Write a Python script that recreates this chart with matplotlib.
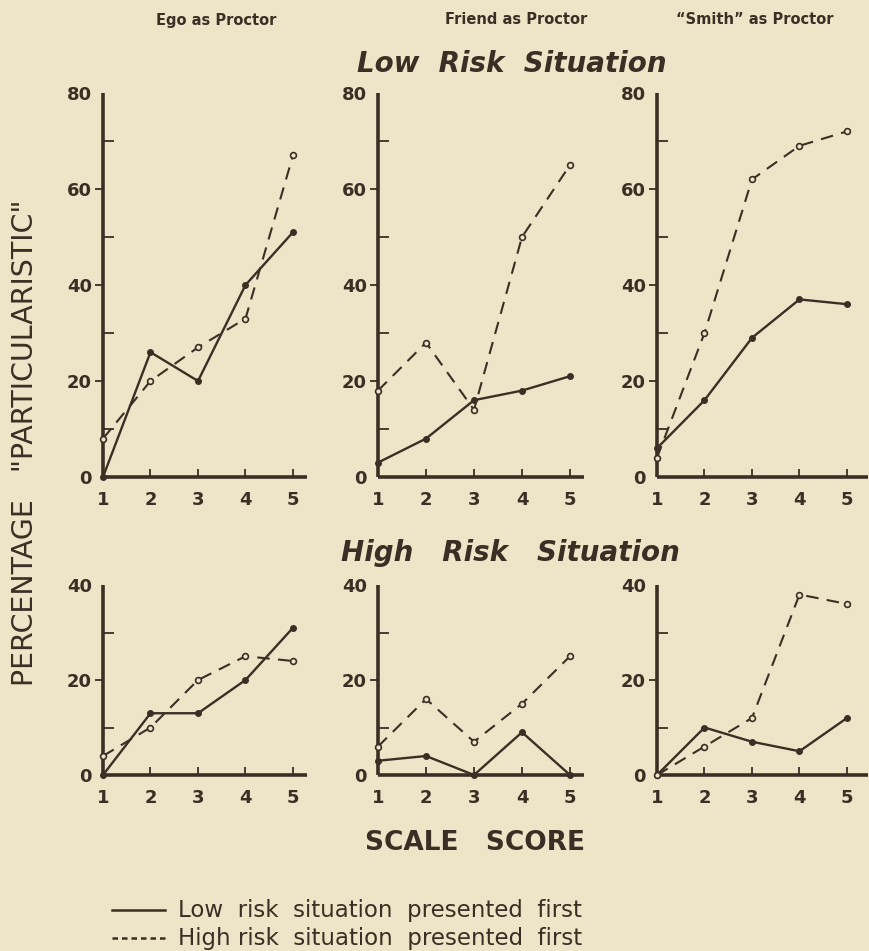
"""Percentage particularistic by scale score, three proctors x two risk situations."""

import matplotlib
matplotlib.use("Agg")
import matplotlib.pyplot as plt
from matplotlib.lines import Line2D

W, H = 870, 951
BG = "#eee5c8"
INK = "#3a2f24"

scores = [1, 2, 3, 4, 5]
proctors = ["Ego as Proctor", "Friend as Proctor", "\u201cSmith\u201d as Proctor"]

# Low risk situation
low_ego_lowfirst = [0, 26, 20, 40, 51]
low_ego_highfirst = [8, 20, 27, 33, 67]
low_friend_lowfirst = [3, 8, 16, 18, 21]
low_friend_highfirst = [18, 28, 14, 50, 65]
low_smith_lowfirst = [6, 16, 29, 37, 36]
low_smith_highfirst = [4, 30, 62, 69, 72]

# High risk situation
high_ego_lowfirst = [0, 13, 13, 20, 31]
high_ego_highfirst = [4, 10, 20, 25, 24]
high_friend_lowfirst = [3, 4, 0, 9, 0]
high_friend_highfirst = [6, 16, 7, 15, 25]
high_smith_lowfirst = [0, 10, 7, 5, 12]
high_smith_highfirst = [0, 6, 12, 38, 36]

plt.rcParams["font.family"] = "DejaVu Sans"
fig = plt.figure(figsize=(W / 100, H / 100), dpi=100, facecolor=BG)


def px_axes(x0, ytop, xend, ybot):
    return fig.add_axes([x0 / W, 1 - ybot / H, (xend - x0) / W, (ybot - ytop) / H])


def panel(ax, solid, dashed, ymax, xmax):
    ax.set_facecolor("none")
    ax.plot(scores, solid, color=INK, lw=1.7, marker="o", ms=4.0,
            mfc=INK, mec=INK, clip_on=False, zorder=3)
    ax.plot(scores, dashed, color=INK, lw=1.5, ls=(0, (6, 4)), marker="o",
            ms=4.2, mfc=BG, mec=INK, mew=1.2, clip_on=False, zorder=3)
    ax.set_xlim(1, xmax)
    ax.set_ylim(0, ymax)
    for s in ["top", "right"]:
        ax.spines[s].set_visible(False)
    for s in ["left", "bottom"]:
        ax.spines[s].set_linewidth(2.6)
        ax.spines[s].set_color(INK)
        ax.spines[s].set_capstyle("butt")
    ax.set_xticks(scores)
    ax.set_xticklabels([str(s) for s in scores])
    ax.tick_params(axis="x", direction="in", length=6, width=1.3, colors=INK,
                   pad=10, labelsize=13)
    ax.xaxis.get_major_ticks()[0].tick1line.set_visible(False)
    major = list(range(0, ymax + 1, 20))
    ax.set_yticks(major)
    ax.set_yticklabels([str(v) for v in major])
    ax.set_yticks(list(range(10, ymax, 20)) + [ymax], minor=True)
    ax.tick_params(axis="y", which="major", direction="out", length=6,
                   width=1.3, colors=INK, pad=2, labelsize=13)
    ax.tick_params(axis="y", which="minor", direction="in", length=8,
                   width=1.3, colors=INK)
    ax.yaxis.get_major_ticks()[0].tick1line.set_visible(False)
    ax.yaxis.get_major_ticks()[-1].tick1line.set_visible(False)
    for lab in ax.get_xticklabels() + ax.get_yticklabels():
        lab.set_fontweight("bold")


# (x of y-axis, x of score 5, right end of x-axis in score units)
cols = [(103, 293, 5.3), (378, 570, 5.3), (657, 847, 5.45)]
top_data = [(low_ego_lowfirst, low_ego_highfirst),
            (low_friend_lowfirst, low_friend_highfirst),
            (low_smith_lowfirst, low_smith_highfirst)]
bot_data = [(high_ego_lowfirst, high_ego_highfirst),
            (high_friend_lowfirst, high_friend_highfirst),
            (high_smith_lowfirst, high_smith_highfirst)]

for (x0, x5, xmax), (s, d) in zip(cols, top_data):
    step = (x5 - x0) / 4
    ax = px_axes(x0, 93, x0 + (xmax - 1) * step, 477)
    panel(ax, s, d, 80, xmax)

for (x0, x5, xmax), (s, d) in zip(cols, bot_data):
    step = (x5 - x0) / 4
    ax = px_axes(x0, 585, x0 + (xmax - 1) * step, 775)
    panel(ax, s, d, 40, xmax)

# column titles
for cx, name in zip([216, 516, 755], proctors):
    fig.text(cx / W, 1 - 20 / H, name, ha="center", va="center",
             fontsize=10.5, fontweight="bold", color=INK)

fig.text(512 / W, 1 - 64 / H, "Low  Risk  Situation", ha="center", va="center",
         fontsize=20, style="italic", fontweight="bold", color=INK)
fig.text(510 / W, 1 - 553 / H, "High   Risk   Situation", ha="center",
         va="center", fontsize=20, style="italic", fontweight="bold", color=INK)
fig.text(475 / W, 1 - 843 / H, "SCALE   SCORE", ha="center",
         va="center", fontsize=19, fontweight="bold", color=INK)
fig.text(25 / W, 1 - 443 / H, "PERCENTAGE   \"PARTICULARISTIC\"", rotation=90,
         ha="center", va="center", fontsize=20.5, color=INK)

# legend
legend_rows = [("solid", "Low  risk  situation  presented  first", 910),
               ("dashed", "High risk  situation  presented  first", 938)]
for style, label, y in legend_rows:
    ls = "-" if style == "solid" else (0, (2.2, 1.6))
    fig.add_artist(Line2D([112 / W, 165 / W], [1 - y / H, 1 - y / H],
                          color=INK, lw=1.8, ls=ls))
    fig.text(178 / W, 1 - y / H, label, ha="left", va="center",
             fontsize=16.5, color=INK)

fig.savefig("out.png", dpi=100, facecolor=BG)
